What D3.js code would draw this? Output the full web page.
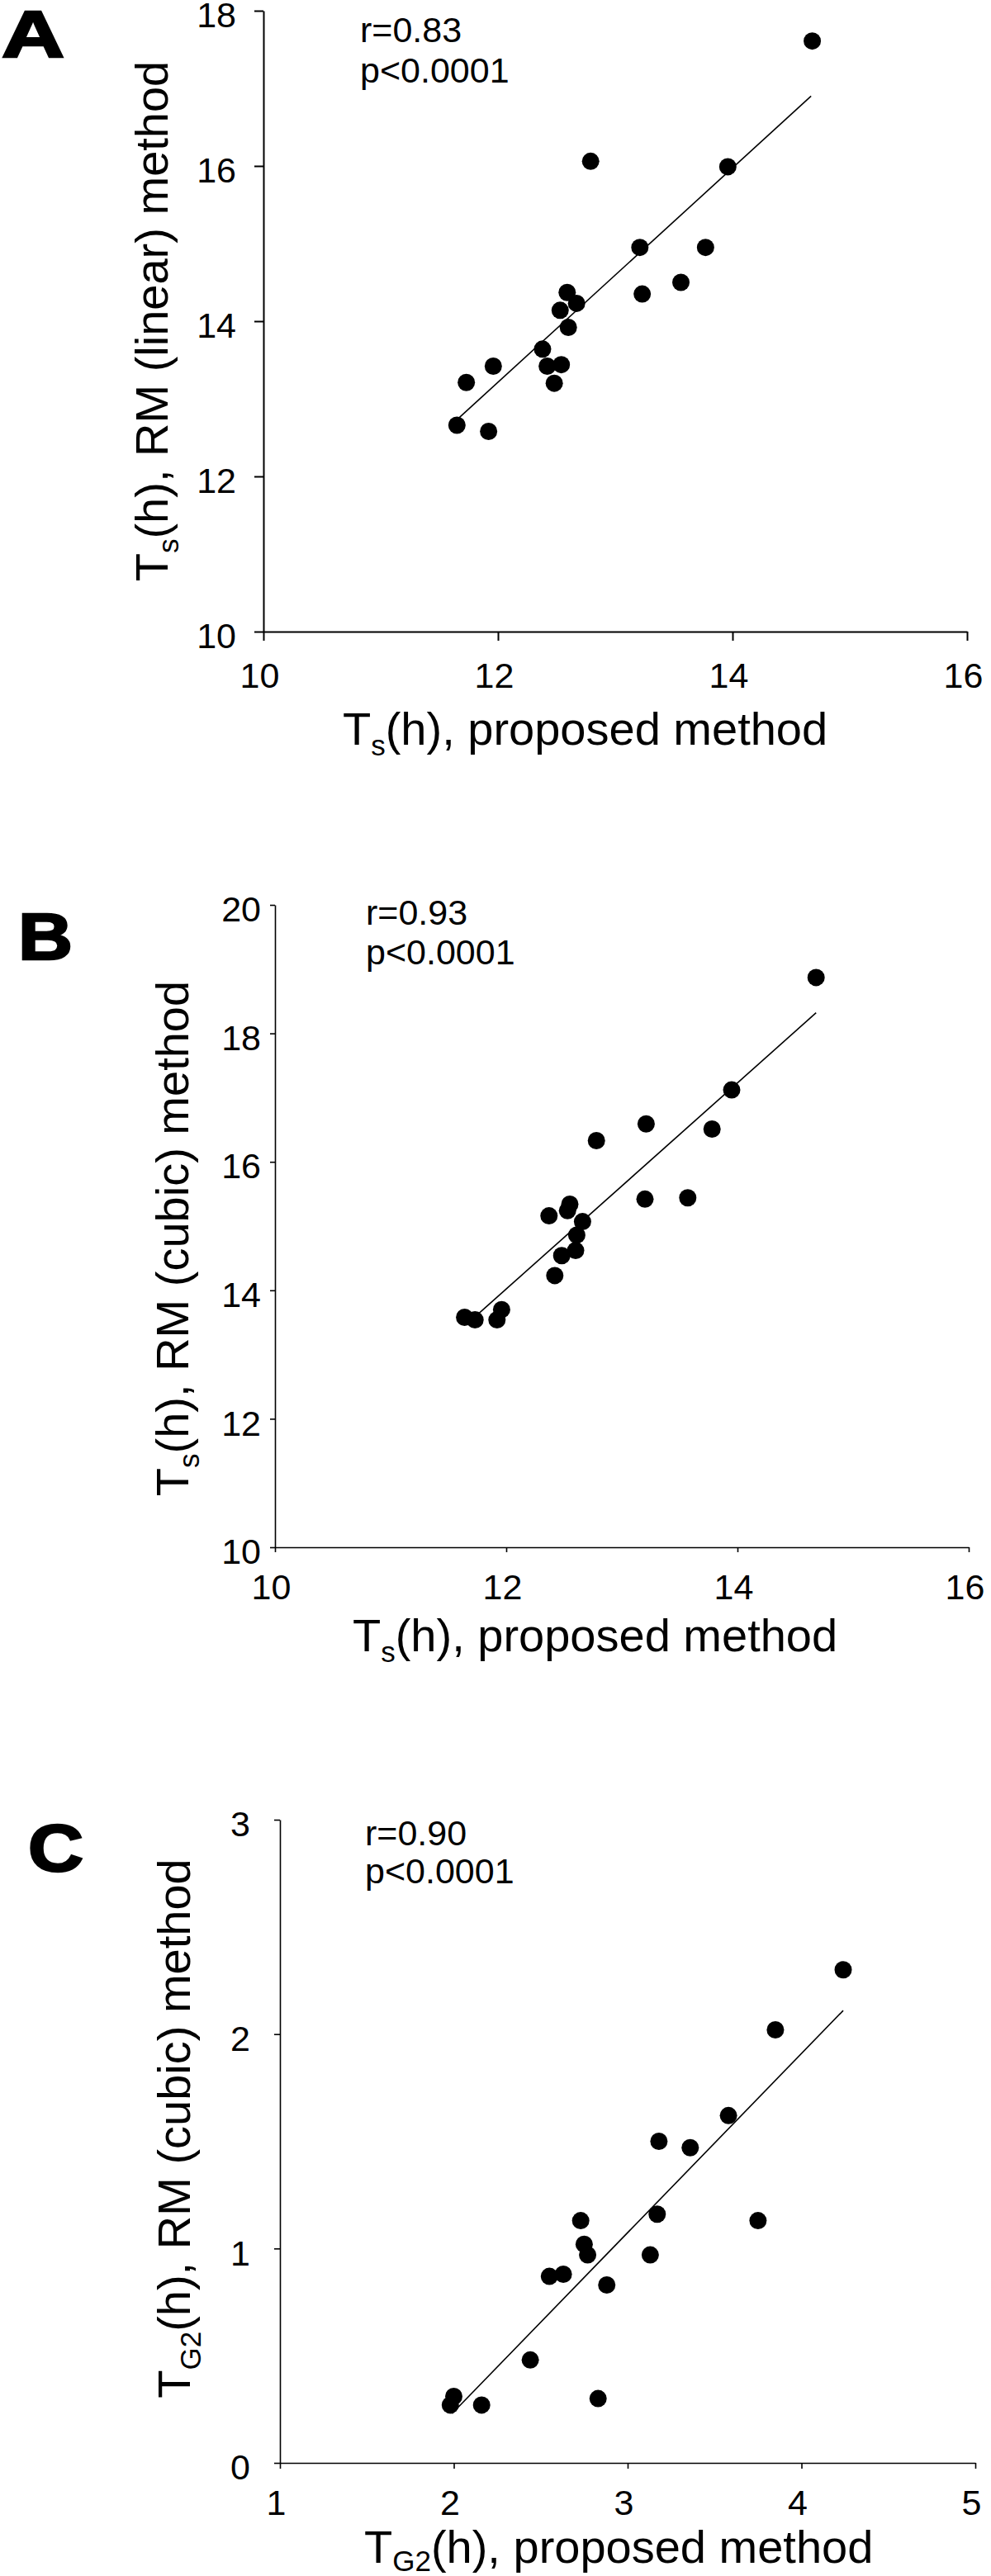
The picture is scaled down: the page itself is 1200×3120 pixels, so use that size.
<!DOCTYPE html>
<html>
<head>
<meta charset="utf-8">
<script src="https://cdn.jsdelivr.net/npm/d3@7"></script>
<style>
  body { margin: 0; background: #fff; }
  svg { display: block; }
  text { font-family: "Liberation Sans", Arial, sans-serif; fill: #000; }
</style>
</head>
<body>
<svg id="chart" width="1200" height="3120"></svg>
<script>
// panel A: Ts, RM (linear) vs proposed
const aX = [14.68, 12.79, 13.96, 13.21, 13.77, 13.56, 13.23, 12.59, 12.67, 12.53, 12.60, 12.38, 12.42, 12.54, 12.48, 11.96, 11.73, 11.65, 11.92];
const aY = [17.61, 16.06, 15.99, 14.95, 14.95, 14.50, 14.35, 14.37, 14.23, 14.14, 13.92, 13.64, 13.42, 13.44, 13.20, 13.42, 13.21, 12.66, 12.58];
const aFitX = [11.65, 14.67];
const aFitY = [12.73, 16.90];
const aXTicks = [10, 12, 14, 16];
const aYTicks = [10, 12, 14, 16, 18];
const aStats = ['r=0.83', 'p<0.0001'];

// panel B: Ts, RM (cubic) vs proposed
const bX = [14.68, 13.95, 13.21, 13.78, 12.78, 13.20, 13.57, 12.55, 12.53, 12.37, 12.66, 12.61, 12.48, 12.60, 12.42, 11.96, 11.92, 11.64, 11.73];
const bY = [18.87, 17.12, 16.59, 16.51, 16.33, 15.42, 15.44, 15.34, 15.24, 15.16, 15.07, 14.86, 14.54, 14.62, 14.23, 13.70, 13.54, 13.58, 13.54];
const bFitX = [11.75, 14.68];
const bFitY = [13.62, 18.32];
const bXTicks = [10, 12, 14, 16];
const bYTicks = [10, 12, 14, 16, 18, 20];
const bStats = ['r=0.93', 'p<0.0001'];

// panel C: TG2, RM (cubic) vs proposed
const cX = [4.24, 3.85, 3.58, 3.18, 3.36, 3.17, 3.75, 2.73, 2.75, 2.77, 3.13, 2.55, 2.63, 2.88, 2.44, 2.83, 2.16, 2.00, 1.98];
const cY = [2.30, 2.02, 1.62, 1.50, 1.47, 1.16, 1.13, 1.13, 1.02, 0.97, 0.97, 0.87, 0.88, 0.83, 0.48, 0.30, 0.27, 0.31, 0.27];
const cFitX = [1.99, 4.24];
const cFitY = [0.23, 2.11];
const cXTicks = [1, 2, 3, 4, 5];
const cYTicks = [0, 1, 2, 3];
const cStats = ['r=0.90', 'p<0.0001'];

const svg = d3.select('#chart');

// layout of each panel (pixel positions only)
const panels = [
  {
    letter: 'A', letterX: 2, letterY: 69, letterW: 76,
    xs: aX, ys: aY, fitX: aFitX, fitY: aFitY, xTicks: aXTicks, yTicks: aYTicks, stats: aStats,
    left: 319, right: 1171, top: 13, bottom: 765,
    tick: 11, stroke: 2, xPad: 26, yPad: 22,
    statX: 436, statY: [51, 100],
    sub: 's', yName: ', RM (linear) method',
    yTitleX: 203, yTitleY: 389, xTitleX: 415, xTitleY: 902
  },
  {
    letter: 'B', letterX: 22, letterY: 1162, letterW: 66,
    xs: bX, ys: bY, fitX: bFitX, fitY: bFitY, xTicks: bXTicks, yTicks: bYTicks, stats: bStats,
    left: 333, right: 1173, top: 1096, bottom: 1874,
    tick: 6, stroke: 1.6, xPad: 26, yPad: 11,
    statX: 443, statY: [1120, 1168],
    sub: 's', yName: ', RM (cubic) method',
    yTitleX: 228, yTitleY: 1500, xTitleX: 427, xTitleY: 2000
  },
  {
    letter: 'C', letterX: 34, letterY: 2266, letterW: 67,
    xs: cX, ys: cY, fitX: cFitX, fitY: cFitY, xTicks: cXTicks, yTicks: cYTicks, stats: cStats,
    left: 339, right: 1181, top: 2204, bottom: 2983,
    tick: 7, stroke: 1.6, xPad: 25, yPad: 29,
    statX: 442, statY: [2235, 2281],
    sub: 'G2', yName: ', RM (cubic) method',
    yTitleX: 230, yTitleY: 2578, xTitleX: 441, xTitleY: 3104
  }
];

function addTitle(sel, sub, rest, drop) {
  sel.append('tspan').text('T');
  sel.append('tspan').attr('font-size', 35).attr('dy', drop).text(sub);
  sel.append('tspan').attr('dy', -drop).text('(h)' + rest);
}

function drawPanel(p) {
  const g = svg.append('g');

  const x = d3.scaleLinear()
    .domain(d3.extent(p.xTicks))
    .range([p.left, p.right]);
  const y = d3.scaleLinear()
    .domain(d3.extent(p.yTicks))
    .range([p.bottom, p.top]);

  // axes, plain integer labels
  const fmt = d3.format('d');
  const xAxis = g.append('g')
    .attr('transform', `translate(0, ${p.bottom})`)
    .call(d3.axisBottom(x).tickValues(p.xTicks).tickFormat(fmt)
      .tickSize(p.tick).tickSizeOuter(0).tickPadding(p.xPad));
  const yAxis = g.append('g')
    .attr('transform', `translate(${p.left}, 0)`)
    .call(d3.axisLeft(y).tickValues(p.yTicks).tickFormat(fmt)
      .tickSize(p.tick).tickSizeOuter(0).tickPadding(p.yPad));

  [xAxis, yAxis].forEach((ax) => {
    ax.attr('font-size', 43).attr('font-family', '"Liberation Sans", Arial, sans-serif');
    ax.selectAll('path, line').attr('stroke', '#000').attr('stroke-width', p.stroke);
    ax.selectAll('text').attr('fill', '#000');
  });
  xAxis.selectAll('text').attr('dx', -5);
  yAxis.selectAll('text').attr('dy', '0.46em');

  // regression line
  const fit = p.fitX.map((v, i) => [v, p.fitY[i]]);
  g.append('path')
    .datum(fit)
    .attr('fill', 'none')
    .attr('stroke', '#000')
    .attr('stroke-width', 1.6)
    .attr('d', d3.line().x((d) => x(d[0])).y((d) => y(d[1])));

  // points
  const pts = p.xs.map((v, i) => ({ x: v, y: p.ys[i] }));
  g.append('g')
    .selectAll('circle')
    .data(pts)
    .join('circle')
    .attr('cx', (d) => x(d.x))
    .attr('cy', (d) => y(d.y))
    .attr('r', 10.5)
    .attr('fill', '#000');

  // stats
  p.stats.forEach((s, i) => {
    g.append('text')
      .attr('x', p.statX)
      .attr('y', p.statY[i])
      .attr('font-size', 43)
      .text(s);
  });

  // panel letter, heavy
  g.append('text')
    .attr('x', p.letterX)
    .attr('y', p.letterY)
    .attr('font-size', 80)
    .attr('font-weight', 'bold')
    .attr('stroke', '#000')
    .attr('stroke-width', 2.5)
    .attr('textLength', p.letterW)
    .attr('lengthAdjust', 'spacingAndGlyphs')
    .text(p.letter);

  // axis titles
  const xt = g.append('text')
    .attr('x', p.xTitleX)
    .attr('y', p.xTitleY)
    .attr('font-size', 56);
  addTitle(xt, p.sub, ', proposed method', p.sub === 'G2' ? 10 : 13);

  const yt = g.append('text')
    .attr('transform', `translate(${p.yTitleX}, ${p.yTitleY}) rotate(-90)`)
    .attr('text-anchor', 'middle')
    .attr('font-size', 56);
  addTitle(yt, p.sub, p.yName, 13);
}

panels.forEach(drawPanel);
</script>
</body>
</html>
